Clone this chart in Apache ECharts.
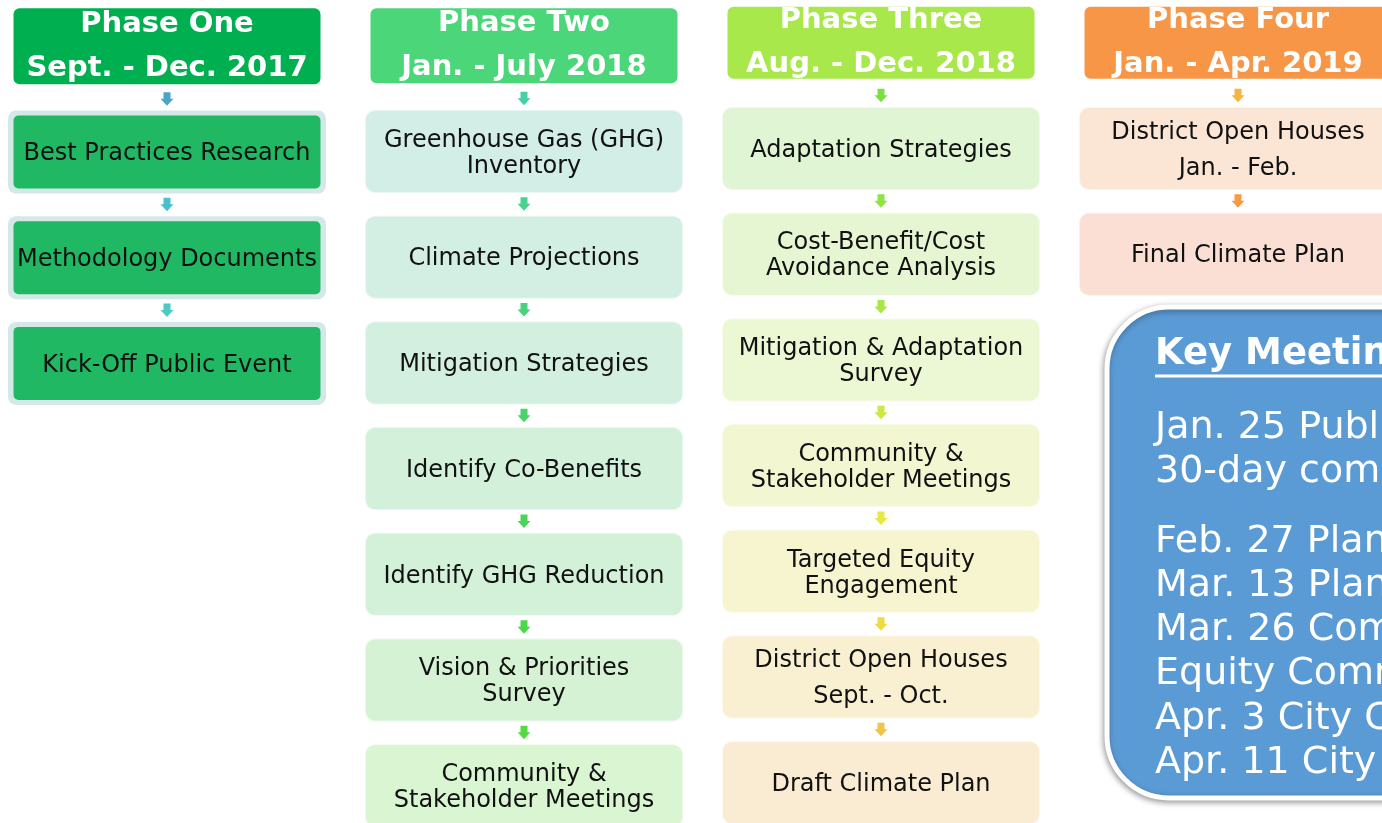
<!DOCTYPE html>
<html><head><meta charset="utf-8">
<script src="https://cdn.jsdelivr.net/npm/echarts@6/dist/echarts.min.js"></script>
<style>html,body{margin:0;padding:0;background:#fff;}#c{width:1382px;height:823px;}</style>
</head><body><div id="c"></div>
<script>
// ---- content ----
const phaseNames = ['Phase One','Phase Two','Phase Three','Phase Four'];
const phaseDates = ['Sept. - Dec. 2017','Jan. - July 2018','Aug. - Dec. 2018','Jan. - Apr. 2019'];
const phaseOneSteps = ['Best Practices Research','Methodology Documents','Kick-Off Public Event'];
const phaseTwoSteps = ['Greenhouse Gas (GHG)\nInventory','Climate Projections','Mitigation Strategies','Identify Co-Benefits','Identify GHG Reduction','Vision & Priorities\nSurvey','Community &\nStakeholder Meetings'];
const phaseThreeSteps = ['Adaptation Strategies','Cost-Benefit/Cost\nAvoidance Analysis','Mitigation & Adaptation\nSurvey','Community &\nStakeholder Meetings','Targeted Equity\nEngagement','District Open Houses\nSept. - Oct.','Draft Climate Plan'];
const phaseFourSteps = ['District Open Houses\nJan. - Feb.','Final Climate Plan'];
const keyMeetingsTitle = 'Key Meetings';
const keyMeetingsGroupA = ['Jan. 25 Public Draft released,','30-day comment period'];
const keyMeetingsGroupB = ['Feb. 27 Planning Commission','Mar. 13 Planning Commission','Mar. 26 Community &','Equity Commission','Apr. 3 City Council Committee','Apr. 11 City Council'];

// ---- styles / layout ----
const FONT = '"DejaVu Sans", Verdana, sans-serif';
const headerColors = ['#00B050','#4CD67A','#A8E84B','#F79646'];
const headerHeights = [76,75,72,72];
const colShift = [2,1.5,-1.5,-1.5];
const boxFills = [
  ['#20B862','#20B862','#20B862'],
  ['#D3EDE7','#D3EEE3','#D3EFDF','#D3F0DB','#D3F1D8','#D5F3D4','#D9F5D2'],
  ['#E0F5D4','#E6F6D3','#ECF7D3','#F2F6D1','#F7F5D0','#F9F0D2','#FAEBD3'],
  ['#FBE6D5','#FBDFD5']
];
const arrowColors = [
  ['#4BA6C6','#4BBFCB','#4CCBC4'],
  ['#48CFA5','#48D190','#48D27C','#48D468','#48D657','#4AD84C','#55DA44'],
  ['#7ADF45','#8FE444','#A8E644','#CBE844','#E6E844','#EEDA44','#F0C444'],
  ['#F6B444','#F69A44']
];
const colPitch = 357, firstColCenter = 167;
const rowPitch = 105.7, firstRowCenter = 150;
const W = 1382, H = 823;
const TXT_DY = 2;

const allSteps = [phaseOneSteps, phaseTwoSteps, phaseThreeSteps, phaseFourSteps];
const items = [];
phaseNames.forEach((n, p) => {
  items.push({p, k: -1, type: 'header', label: n + '\n' + phaseDates[p]});
  allSteps[p].forEach((s, k) => items.push({p, k, type: 'step', label: s}));
});

function arrow(cx, cy, color) {
  return {type: 'polygon', shape: {points: [
    [cx - 3.5, cy - 7], [cx + 3.5, cy - 7], [cx + 3.5, cy - 0.5], [cx + 6.5, cy - 0.5],
    [cx, cy + 6.5], [cx - 6.5, cy - 0.5], [cx - 3.5, cy - 0.5]]}, style: {fill: color}};
}

function renderItem(params, api) {
  const it = items[params.dataIndex];
  const pt = api.coord([it.p, it.k]);
  const cx = pt[0], cy = pt[1] + colShift[it.p];
  const ch = [];
  if (it.type === 'header') {
    const h = headerHeights[it.p];
    ch.push({type: 'rect', shape: {x: cx - 153.5, y: cy - h / 2, width: 307, height: h, r: 6},
      style: {fill: headerColors[it.p]}});
    ch.push({type: 'text', style: {text: it.label, x: cx, y: cy, align: 'center', verticalAlign: 'middle',
      font: 'bold 29px ' + FONT, lineHeight: 44, fill: '#fff'}});
  } else {
    ch.push(arrow(cx, cy - rowPitch / 2, arrowColors[it.p][it.k]));
    if (it.p === 0) {
      ch.push({type: 'rect', shape: {x: cx - 159, y: cy - 41.5, width: 318, height: 83, r: 8},
        style: {fill: '#D4E8EA'}});
      ch.push({type: 'rect', shape: {x: cx - 153.5, y: cy - 36.5, width: 307, height: 73, r: 5},
        style: {fill: boxFills[0][it.k]}});
    } else {
      ch.push({type: 'rect', shape: {x: cx - 159, y: cy - 41.5, width: 318, height: 83, r: 10},
        style: {fill: boxFills[it.p][it.k], stroke: 'rgba(255,255,255,0.5)', lineWidth: 2}});
    }
    const wide = it.label.indexOf('District Open Houses') === 0;
    ch.push({type: 'text', style: {text: it.label, x: cx, y: cy + TXT_DY, align: 'center', verticalAlign: 'middle',
      font: '24px ' + FONT, lineHeight: wide ? 36 : 26, fill: '#111'}});
  }
  return {type: 'group', children: ch};
}

const keyGraphics = [];
keyGraphics.push({type: 'rect', shape: {x: 1107, y: 307, width: 340, height: 491, r: 62},
  style: {fill: '#5B9BD5', stroke: '#fff', lineWidth: 5, shadowBlur: 6, shadowColor: 'rgba(0,0,0,0.35)', shadowOffsetX: -1, shadowOffsetY: 2}});
keyGraphics.push({type: 'text', style: {text: keyMeetingsTitle, x: 1155, y: 352 + TXT_DY, verticalAlign: 'middle',
  font: 'bold 37px ' + FONT, fill: '#fff'}});
keyGraphics.push({type: 'line', shape: {x1: 1155, y1: 376, x2: 1400, y2: 376}, style: {stroke: '#fff', lineWidth: 3}});
keyMeetingsGroupA.forEach((t, i) => keyGraphics.push({type: 'text', style: {text: t, x: 1155, y: 426 + TXT_DY + i * 44,
  verticalAlign: 'middle', font: '38px ' + FONT, fill: '#fff'}}));
keyMeetingsGroupB.forEach((t, i) => keyGraphics.push({type: 'text', style: {text: t, x: 1155, y: 540 + TXT_DY + i * 44.2,
  verticalAlign: 'middle', font: '38px ' + FONT, fill: '#fff'}}));

const chart = echarts.init(document.getElementById('c'), null, {renderer: 'canvas'});
chart.setOption({
  animation: false,
  backgroundColor: '#fff',
  grid: {left: 0, right: 0, top: 0, bottom: 0},
  xAxis: {type: 'value', show: false, min: -firstColCenter / colPitch, max: (W - firstColCenter) / colPitch},
  yAxis: {type: 'value', show: false, inverse: true, min: -firstRowCenter / rowPitch, max: (H - firstRowCenter) / rowPitch},
  series: [{type: 'custom', renderItem, clip: false,
    data: items.map(it => [it.p, it.k])}],
  graphic: keyGraphics
});
</script></body></html>
